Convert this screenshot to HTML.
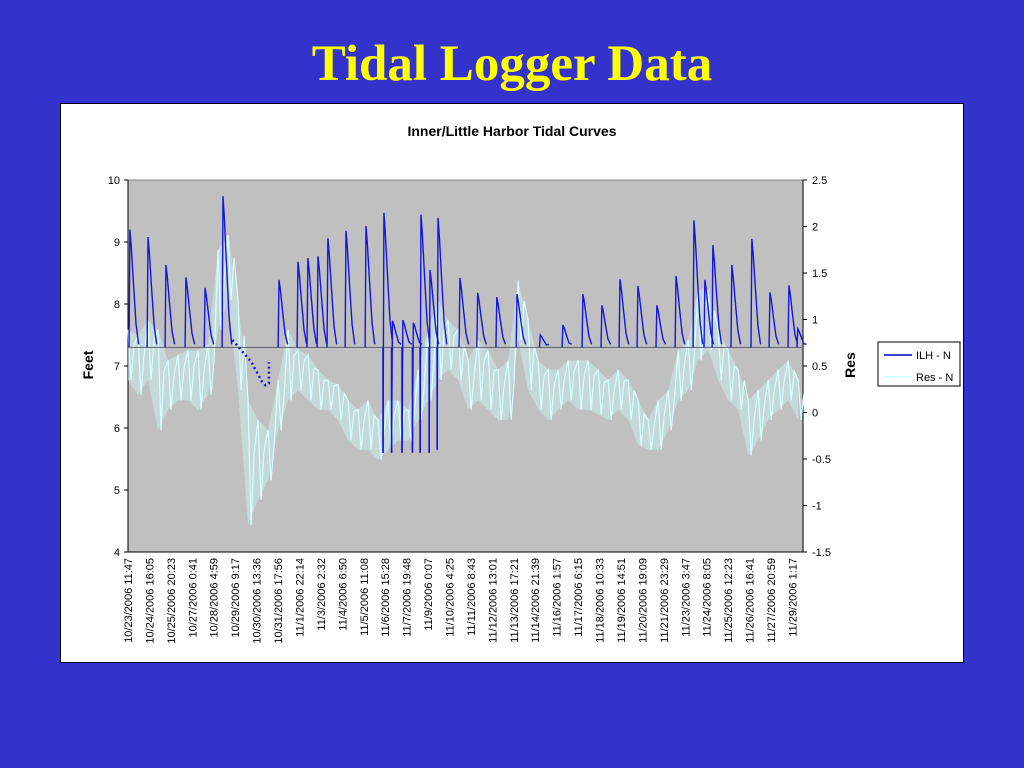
<!DOCTYPE html>
<html><head><meta charset="utf-8">
<style>
body{margin:0;width:1024px;height:768px;background:#3333cc;overflow:hidden;font-family:"Liberation Sans",sans-serif}
#title{position:absolute;left:0;width:1024px;top:35px;text-align:center;font-family:"Liberation Serif",serif;font-weight:bold;font-size:51px;color:#ffff00}
#box{position:absolute;left:60px;top:103px;width:902px;height:558px;background:#fff;border:1px solid #000}
</style></head><body>
<div id="title">Tidal Logger Data</div>
<div id="box"></div>
<svg id="chart" width="1024" height="768" style="position:absolute;left:0;top:0">
<text x="512" y="136" text-anchor="middle" font-size="14" font-weight="bold">Inner/Little Harbor Tidal Curves</text>
<rect x="128" y="180" width="675" height="372" fill="#c0c0c0" stroke="#808080"/>
<g id="axes"></g>
<g id="res"></g>
<g id="ilh"></g>
<text transform="translate(93,365) rotate(-90)" text-anchor="middle" font-size="14" font-weight="bold">Feet</text>
<text transform="translate(855,365) rotate(-90)" text-anchor="middle" font-size="14" font-weight="bold">Res</text>
<g>
<rect x="878" y="342" width="82" height="44" fill="#fff" stroke="#000"/>
<g><line x1="884" y1="355" x2="912" y2="355" stroke="#0000cc" stroke-width="1.5"/><text x="916" y="359" font-size="11">ILH - N</text></g>
<g><line x1="884" y1="377" x2="912" y2="377" stroke="#ccffff" stroke-width="1.5"/><text x="916" y="381" font-size="11">Res - N</text></g>
</g>
</svg>
<script>
const xLabels=["10/23/2006 11:47","10/24/2006 16:05","10/25/2006 20:23","10/27/2006 0:41","10/28/2006 4:59","10/29/2006 9:17","10/30/2006 13:36","10/31/2006 17:56","11/1/2006 22:14","11/3/2006 2:32","11/4/2006 6:50","11/5/2006 11:08","11/6/2006 15:28","11/7/2006 19:48","11/9/2006 0:07","11/10/2006 4:25","11/11/2006 8:43","11/12/2006 13:01","11/13/2006 17:21","11/14/2006 21:39","11/16/2006 1:57","11/17/2006 6:15","11/18/2006 10:33","11/19/2006 14:51","11/20/2006 19:09","11/21/2006 23:29","11/23/2006 3:47","11/24/2006 8:05","11/25/2006 12:23","11/26/2006 16:41","11/27/2006 20:59","11/29/2006 1:17"];
const leftTicks=[4,5,6,7,8,9,10];
const rightTicks=[-1.5,-1,-0.5,0,0.5,1,1.5,2,2.5];
const labelStepDays=1.232;
const baseFeet=7.3;
const ilhDays=[0.11,1.15,2.18,3.33,4.43,5.46,8.68,9.77,10.34,10.92,11.49,12.53,13.68,14.71,15.2,15.8,16.4,16.84,17.36,17.82,19.08,20.1,21.2,22.36,23.7,25.0,26.15,27.24,28.28,29.31,30.4,31.5,32.53,33.16,33.62,34.71,35.86,36.9,37.99,38.5];
const ilhPeaks=[9.2,9.08,8.63,8.43,8.26,9.74,8.39,8.68,8.74,8.77,9.06,9.18,9.26,9.47,7.73,7.74,7.7,9.44,8.55,9.39,8.42,8.18,8.11,8.16,7.5,7.66,8.16,7.98,8.4,8.29,7.98,8.45,9.35,8.39,8.95,8.63,9.05,8.19,8.3,7.6];
const ilhLows=[7.3,7.3,7.3,7.3,7.3,7.3,7.3,7.3,7.3,7.3,7.3,7.3,7.3,5.6,5.6,5.6,5.6,5.6,5.6,5.65,7.3,7.3,7.3,7.3,7.3,7.3,7.3,7.3,7.3,7.3,7.3,7.3,7.3,7.3,7.3,7.3,7.3,7.3,7.3,7.3];
const drainDays=[6.0,6.5,7.1,7.7,7.9,8.1,8.1];
const drainFeet=[7.42,7.26,7.06,6.75,6.69,6.72,7.06];
const resStepDays=0.575;
const resHi=[0.89,0.83,0.99,0.89,0.56,0.62,0.67,0.67,0.73,1.75,1.91,1.21,0.13,-0.08,-0.19,0.35,0.89,0.67,0.62,0.46,0.35,0.30,0.13,0.03,0.13,-0.08,0.13,0.13,0.03,0.46,0.89,1.21,0.99,0.89,0.56,0.78,0.67,0.46,0.56,1.42,0.99,0.56,0.46,0.46,0.56,0.56,0.56,0.46,0.35,0.46,0.35,0.13,-0.08,0.13,0.24,0.67,0.78,1.32,1.32,0.89,0.67,0.46,0.13,0.24,0.35,0.46,0.56,0.35];
const resLo=[0.35,0.19,0.35,-0.19,0.03,0.13,0.13,0.03,0.19,0.89,1.21,0.24,-1.21,-0.94,-0.73,-0.19,0.13,0.24,0.13,0.03,0.03,-0.08,-0.30,-0.40,-0.40,-0.51,-0.40,-0.30,-0.30,-0.08,0.13,0.35,0.46,0.35,0.03,0.13,0.03,-0.08,-0.08,0.78,0.24,0.03,-0.08,0.03,0.13,0.03,0.03,-0.02,-0.08,0.03,-0.08,-0.35,-0.40,-0.40,-0.19,0.13,0.24,0.56,0.67,0.35,0.13,0.03,-0.46,-0.30,-0.08,0.03,0.13,-0.08];

const NS="http://www.w3.org/2000/svg";
const X0=128,X1=803,Y0=180,Y1=552,DAYS=38.8;
const x=d=>X0+d/DAYS*(X1-X0);
const yL=v=>Y1-(v-4)/6*(Y1-Y0);
const yR=v=>Y1-(v+1.5)/4*(Y1-Y0);
function mk(tag,attrs,parent){const e=document.createElementNS(NS,tag);for(const k in attrs)e.setAttribute(k,attrs[k]);parent.appendChild(e);return e;}
const axes=document.getElementById('axes');
mk('line',{x1:X0,y1:Y0,x2:X0,y2:Y1,stroke:'#000'},axes);
mk('line',{x1:X1,y1:Y0,x2:X1,y2:Y1,stroke:'#000'},axes);
mk('line',{x1:X0,y1:Y1,x2:X1,y2:Y1,stroke:'#000'},axes);
leftTicks.forEach(v=>{
  mk('line',{x1:X0-4,y1:yL(v),x2:X0,y2:yL(v),stroke:'#000'},axes);
  const t=mk('text',{x:X0-8,y:yL(v)+4,'text-anchor':'end','font-size':11},axes);t.textContent=v;
  
  
});
rightTicks.forEach(v=>{
  mk('line',{x1:X1,y1:yR(v),x2:X1+4,y2:yR(v),stroke:'#000'},axes);
  const t=mk('text',{x:X1+9,y:yR(v)+4,'font-size':11},axes);t.textContent=v;
  
  
});
xLabels.forEach((s,i)=>{
  const px=x(i*labelStepDays);
  const t=mk('text',{transform:`translate(${px+4},${Y1+6}) rotate(-90)`,'text-anchor':'end','font-size':11},axes);t.textContent=s;
  
  
});
const res=document.getElementById('res');
let topPts=[],botPts=[],zig=[];
resHi.forEach((h,i)=>{const px=x(i*resStepDays);topPts.push(px+','+yR(h));botPts.unshift(px+','+yR(resLo[i]));
  zig.push(px+','+yR(h));zig.push((px+3)+','+yR(resLo[i]));zig.push((px+6)+','+yR((h+resLo[i])/2+0.1));});
const band=mk('polygon',{points:topPts.concat(botPts).join(' '),fill:'#c8ecec',opacity:0.55},res);


const zz=mk('polyline',{points:zig.join(' '),fill:'none',stroke:'#d8ffff','stroke-width':1.2},res);


const ilh=document.getElementById('ilh');
const bl=mk('line',{x1:X0,y1:yL(baseFeet),x2:X1,y2:yL(baseFeet),stroke:'#606070','stroke-width':1},ilh);


ilhDays.forEach((d,i)=>{
  const p=ilhPeaks[i],lo=ilhLows[i];
  const pts=[[d-0.05,lo],[d,p],[d+0.08,p-0.15*(p-baseFeet)],[d+0.2,p-0.45*(p-baseFeet)],[d+0.35,baseFeet+0.2*(p-baseFeet)],[d+0.5,baseFeet+0.05]];
  const pl=mk('polyline',{points:pts.map(q=>x(q[0])+','+yL(q[1])).join(' '),fill:'none',stroke:'#1515dd','stroke-width':1.4},ilh);
  
  
  if(lo<baseFeet){const dr=mk('line',{x1:x(d-0.05),y1:yL(baseFeet),x2:x(d-0.05),y2:yL(lo),stroke:'#1515dd','stroke-width':1.6},ilh);
    
    }
});
const drain=mk('polyline',{points:drainDays.map((d,i)=>x(d)+','+yL(drainFeet[i])).join(' '),fill:'none',stroke:'#1515dd','stroke-width':2.5,'stroke-dasharray':'2 3'},ilh);


</script>
</body></html>
